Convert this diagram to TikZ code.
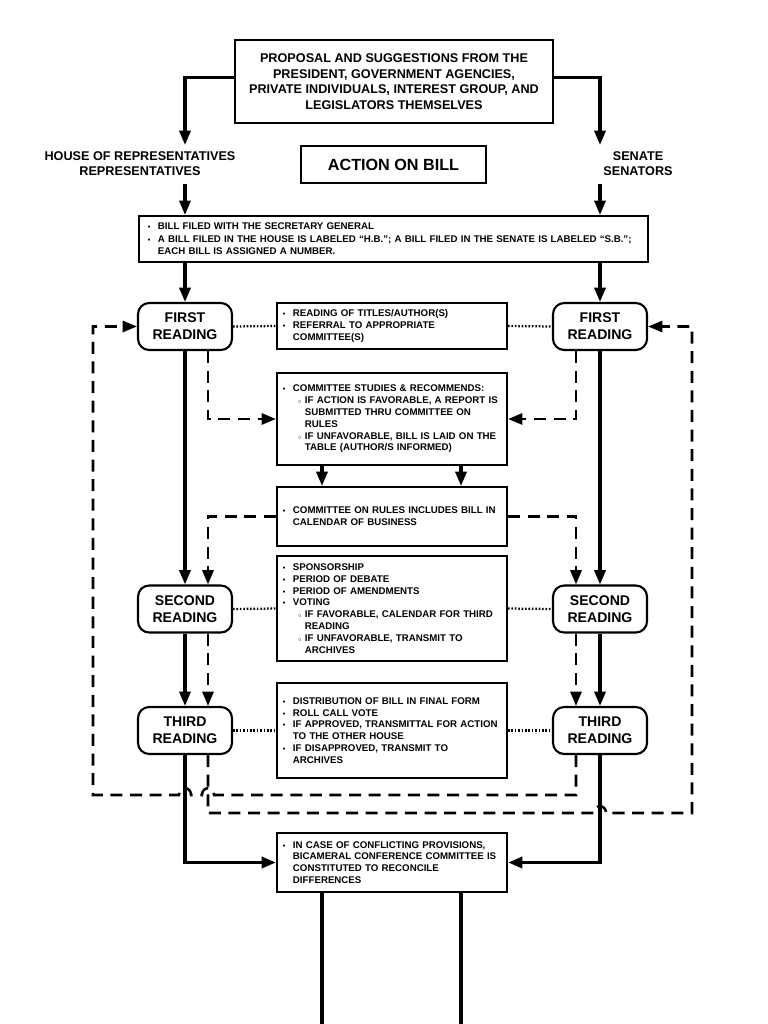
\documentclass[tikz,border=0pt]{standalone}
\usepackage{graphicx}
\usepackage{fontspec}
\setmainfont{Liberation Sans}
\usetikzlibrary{arrows.meta,positioning}

\newcommand{\bul}{\makebox[0.25cm][l]{\scalebox{0.75}{\textbullet}}}
\newcommand{\sbul}{\hspace*{0.38cm}\makebox[0.17cm][l]{\scalebox{0.6}{$\circ$}}}
\newcommand{\ina}{\hspace*{0.25cm}}
\newcommand{\inb}{\hspace*{0.55cm}}

\begin{document}
\begin{tikzpicture}[x=0.025cm,y=-0.025cm,
    mainbox/.style={draw,line width=1.5pt,inner sep=0pt,align=center},
    infobox/.style={draw,line width=1.5pt,text width=5.45cm,inner xsep=0.15cm,inner ysep=0pt,
      align=left,font=\fontsize{6.9}{8.4}\selectfont\bfseries},
    readnode/.style={draw,rounded corners=0.28cm,line width=1.5pt,minimum width=2.35cm,
      minimum height=1.175cm,inner sep=0pt,align=center,font=\fontsize{10}{12}\selectfont\bfseries},
    arr/.style={line width=2.2pt,-{Triangle[length=0.36cm,width=0.28cm]}},
    dsh/.style={line width=1.8pt,dash pattern=on 0.3cm off 0.19cm},
    dotline/.style={line width=1.6pt,dash pattern=on 0.04cm off 0.045cm}]

  \useasboundingbox (0,0) rectangle (768,1024);

  % top of the chart
  \node[mainbox,minimum width=7.95cm,minimum height=2.075cm,font=\fontsize{9}{11}\selectfont\bfseries]
    (prop) at (394,81.5) {PROPOSAL AND SUGGESTIONS FROM THE\\PRESIDENT, GOVERNMENT AGENCIES,\\
    PRIVATE INDIVIDUALS, INTEREST GROUP, AND\\LEGISLATORS THEMSELVES};
  \node[align=center,font=\fontsize{9}{10.5}\selectfont\bfseries] (house) at (140,164)
    {HOUSE OF REPRESENTATIVES\\REPRESENTATIVES};
  \node[align=center,font=\fontsize{9}{10.5}\selectfont\bfseries] (senate) at (638,164)
    {SENATE\\SENATORS};
  \node[mainbox,minimum width=4.625cm,minimum height=0.925cm,font=\fontsize{11.5}{13}\selectfont\bfseries]
    (action) at (393.5,164.5) {ACTION ON BILL};
  \node[draw,line width=1.5pt,text width=12.275cm,inner xsep=0.225cm,inner ysep=0pt,minimum height=1.15cm,
    align=left,font=\fontsize{6.9}{8.8}\selectfont\bfseries] (filed) at (393.5,239)
    {\bul BILL FILED WITH THE SECRETARY GENERAL\\
     \bul A BILL FILED IN THE HOUSE IS LABELED “H.B.”; A BILL FILED IN THE SENATE IS LABELED “S.B.”;\\
     \ina EACH BILL IS ASSIGNED A NUMBER.};

  % readings
  \node[readnode] (FRL) at (185,326.5) {FIRST\\READING};
  \node[readnode] (FRR) at (600,326.5) {FIRST\\READING};
  \node[readnode] (SRL) at (185,609) {SECOND\\READING};
  \node[readnode] (SRR) at (600,609) {SECOND\\READING};
  \node[readnode] (TRL) at (185,730.5) {THIRD\\READING};
  \node[readnode] (TRR) at (600,730.5) {THIRD\\READING};

  % middle column
  \node[infobox,minimum height=1.15cm] (titles) at (392,326)
    {\bul READING OF TITLES/AUTHOR(S)\\\bul REFERRAL TO APPROPRIATE\\\ina COMMITTEE(S)};
  \node[infobox,minimum height=2.3cm] (comm) at (392,419)
    {\bul COMMITTEE STUDIES \& RECOMMENDS:\\
     \sbul IF ACTION IS FAVORABLE, A REPORT IS\\\inb SUBMITTED THRU COMMITTEE ON\\\inb RULES\\
     \sbul IF UNFAVORABLE, BILL IS LAID ON THE\\\inb TABLE (AUTHOR/S INFORMED)};
  \node[infobox,minimum height=1.475cm] (rules) at (392,516.5)
    {\bul COMMITTEE ON RULES INCLUDES BILL IN\\\ina CALENDAR OF BUSINESS};
  \node[infobox,minimum height=2.625cm] (debate) at (392,608.5)
    {\bul SPONSORSHIP\\\bul PERIOD OF DEBATE\\\bul PERIOD OF AMENDMENTS\\\bul VOTING\\
     \sbul IF FAVORABLE, CALENDAR FOR THIRD\\\inb READING\\
     \sbul IF UNFAVORABLE, TRANSMIT TO\\\inb ARCHIVES};
  \node[infobox,minimum height=2.375cm] (final) at (392,730.5)
    {\bul DISTRIBUTION OF BILL IN FINAL FORM\\\bul ROLL CALL VOTE\\
     \bul IF APPROVED, TRANSMITTAL FOR ACTION\\\ina TO THE OTHER HOUSE\\
     \bul IF DISAPPROVED, TRANSMIT TO\\\ina ARCHIVES};
  \node[infobox,minimum height=1.475cm] (conf) at (392,862.5)
    {\bul IN CASE OF CONFLICTING PROVISIONS,\\\ina BICAMERAL CONFERENCE COMMITTEE IS\\
     \ina CONSTITUTED TO RECONCILE\\\ina DIFFERENCES};

  \coordinate (hA) at (185,145);
  \coordinate (hB) at (600,145);
  \coordinate (hC) at (185,184);
  \coordinate (hD) at (600,184);
  \coordinate (loopL) at (93,795);
  \coordinate (loopR) at (692,813);
  \coordinate (outA) at (322,1024);
  \coordinate (outB) at (461,1024);

  % solid flow
  \draw[arr] ([yshift=0.1cm]prop.west) -| (hA);
  \draw[arr] ([yshift=0.1cm]prop.east) -| (hB);
  \draw[arr] (hC) -- (filed.north -| hC);
  \draw[arr] (hD) -- (filed.north -| hD);
  \draw[arr] (filed.south -| FRL) -- (FRL.north);
  \draw[arr] (filed.south -| FRR) -- (FRR.north);
  \draw[arr] (FRL.south) -- (SRL.north);
  \draw[arr] (FRR.south) -- (SRR.north);
  \draw[arr] (SRL.south) -- (TRL.north);
  \draw[arr] (SRR.south) -- (TRR.north);
  \draw[arr] (TRL.south) |- (conf.west);
  \draw[arr] (TRR.south) |- (conf.east);
  \draw[arr] ([xshift=-1.75cm]comm.south) -- ([xshift=-1.75cm]rules.north);
  \draw[arr] ([xshift=1.725cm]comm.south) -- ([xshift=1.725cm]rules.north);
  \draw[line width=2.2pt] (conf.south -| outA) -- (outA);
  \draw[line width=2.2pt] (conf.south -| outB) -- (outB);

  % dotted links
  \draw[dotline] (FRL.east) -- (titles.west);
  \draw[dotline] (titles.east) -- (FRR.west);
  \draw[dotline] (SRL.east) -- (debate.west);
  \draw[dotline] (debate.east) -- (SRR.west);
  \draw[dotline] (TRL.east) -- (final.west);
  \draw[dotline] (final.east) -- (TRR.west);

  % dashed flow
  \draw[arr,dsh] ([xshift=0.575cm]FRL.south) |- (comm.west);
  \draw[arr,dsh] ([xshift=-0.6cm]FRR.south) |- (comm.east);
  \draw[arr,dsh] (rules.west) -| ([xshift=0.575cm]SRL.north);
  \draw[arr,dsh] (rules.east) -| ([xshift=-0.6cm]SRR.north);
  \draw[arr,dsh] ([xshift=0.575cm]SRL.south) -- ([xshift=0.575cm]TRL.north);
  \draw[arr,dsh] ([xshift=-0.6cm]SRR.south) -- ([xshift=-0.6cm]TRR.north);
  \draw[arr,dsh] ([xshift=-0.6cm]TRR.south) |- (214,795)
    .. controls (214,786) and (202,786) .. (202,795) -- (191,795)
    .. controls (191,786) and (179,786) .. (179,795) -- (loopL) |- (FRL.west);
  \draw[arr,dsh] ([xshift=0.575cm]TRL.south) |- (594,813)
    .. controls (594,804) and (606,804) .. (606,813) -| (loopR) |- (FRR.east);

\end{tikzpicture}
\end{document}
